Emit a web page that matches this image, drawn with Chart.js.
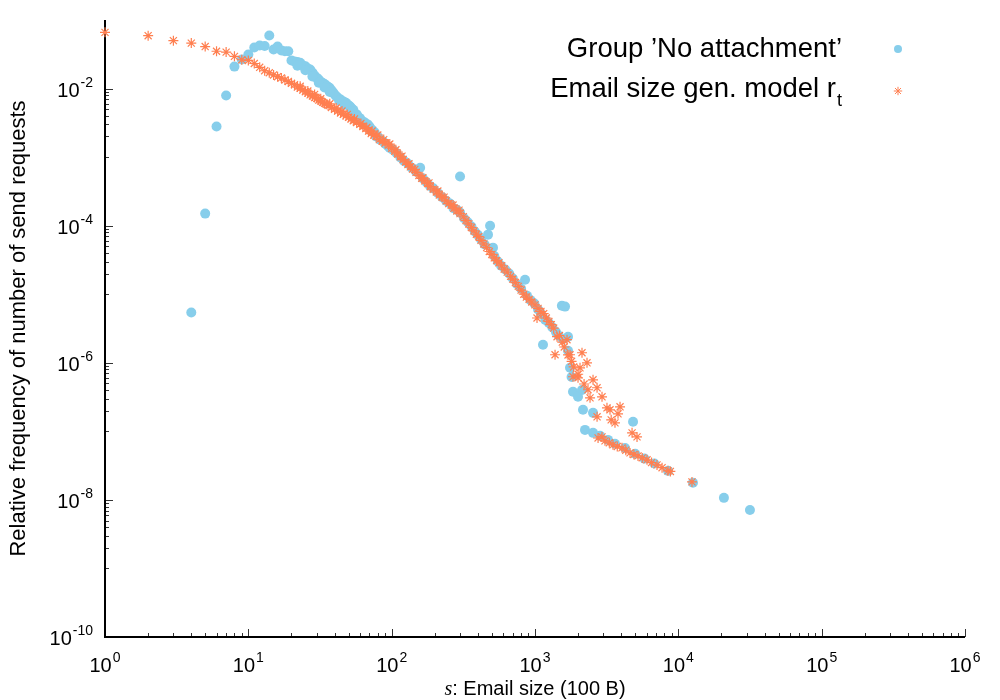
<!DOCTYPE html>
<html><head><meta charset="utf-8">
<script src="https://cdn.jsdelivr.net/npm/chart.js@4/dist/chart.umd.min.js"></script>
<style>html,body{margin:0;padding:0;background:#fff}#wrap{width:1000px;height:700px;position:relative}</style>
</head><body><div id="wrap"><canvas id="c"></canvas></div>
<script>
// ---- tick labels (exponents of 10) ----
const xTickExponents = ['0','1','2','3','4','5','6'];
const yTickExponents = ['-2','-4','-6','-8','-10'];
const seriesNames = ["Group \u2019No attachment\u2019", "Email size gen. model r"];
const modelSubscript = 't';
const xTitleItalic = 's';
const xTitleRest = ': Email size (100 B)';
const yTitle = 'Relative frequency of number of send requests';

// ---- series: Group 'No attachment' ----
const noAttachX = [4,5,6,7,8,9,10,11,12,13,14,15,16,17,18,19,20,21,22,23,24,25,26,27,28,29,30,31,32,33,34,35,36,37,38,39,40,41,42,44,46,48,50,51,52,54,57,60,62,65,68,70,73,76,80,83,87,90,94,97,102,108,115,122,130,138,148,158,165,175,185,195,210,225,240,255,270,285,300,300,320,340,360,380,400,420,445,470,486,509,520,550,580,620,660,700,750,800,852,880,930,990,1050,1100,1137,1180,1250,1320,1400,1460,1540,1620,1567,1700,1700,1755,1800,1841,1996,2128,2162,2540,2233,2540,2843,3230,3614,4250,4830,5000,5800,6800,8470,12650,20800,31600,
  22,25,28,31,34,37,43,47,53,58,64,72,78];
const noAttachY = [5.4e-6,1.5e-4,2.8e-3,7.9e-3,0.0209,0.0265,0.0313,0.0397,0.0425,0.0417,0.0594,0.0371,0.041,0.036,0.035,0.035,0.0256,0.0248,0.0244,0.0237,0.0217,0.0212,0.0196,0.0189,0.0171,0.0155,0.0143,0.0135,0.0126,0.0121,0.0116,0.0111,0.0106,0.0102,0.0094,0.0088,0.0082,0.0077,0.0074,0.0069,0.0065,0.0062,0.0057,0.0055,0.0053,0.0049,0.0042,0.0037,0.0034,0.0032,0.0030,0.0028,0.0025,0.0023,0.0020,0.0018,0.0017,0.00157,0.00145,0.00136,0.00128,0.00115,0.00099,0.00088,0.00080,0.00070,0.00061,0.00070,0.00049,0.00043,0.00038,0.00035,0.00030,0.00026,0.00023,0.00021,0.00018,0.00017,0.00052,0.000155,0.000128,0.000112,9.7e-5,8.2e-5,7.3e-5,6.3e-5,5.3e-5,7.4e-5,1.0e-4,4.78e-5,3.6e-5,3.0e-5,2.6e-5,2.3e-5,2.0e-5,1.7e-5,1.4e-5,1.2e-5,1.63e-5,9.5e-6,8.2e-6,7.3e-6,6.0e-6,5.2e-6,1.83e-6,4.2e-6,3.8e-6,3.3e-6,2.8e-6,2.5e-6,6.8e-6,6.6e-6,2.2e-6,2.4e-6,1.5e-6,8.45e-7,6.2e-7,3.78e-7,3.19e-7,4.0e-7,2.06e-7,1.86e-7,1.05e-7,9.5e-8,8.6e-8,7.5e-8,6.6e-8,5.7e-8,1.38e-7,4.7e-8,4.0e-8,3.4e-8,2.65e-8,1.78e-8,1.07e-8,7.1e-9,
  0.0215,0.0185,0.0150,0.0122,0.0104,0.0089,0.0067,0.0058,0.0047,0.0039,0.0030,0.0024,0.0020];

// ---- series: Email size gen. model r_t ----
const modelX = [1,2,3,4,5,6,7,8,9,10,11,12,13,14,15,16,17,18,19,20,21,22,23,24,25,26,27,28,29,30,31,32,33,34,35,36,38,40,42,44,46,48,50,52,54,57,60,63,66,69,72,75,78,82,86,90,95,100,105,110,115,120,125,130,135,140,148,155,162,170,178,186,195,205,215,225,240,250,260,272,285,300,316,330,345,360,375,390,405,420,440,460,480,500,520,540,560,585,610,640,676,700,730,765,800,835,871,910,950,1000,1033,1050,1100,1150,1200,1250,1300,1350,1380,1425,1480,1550,1600,1672,1700,1755,1800,1841,1860,1996,2000,2061,2128,2200,2306,2343,2421,2540,2710,2710,2935,2935,3178,3336,3400,3614,3795,3920,4756,5150,2754,3078,3300,3500,3750,4045,4300,4603,4900,5233,5600,6046,6500,7100,7700,8470,8800,12450,
  23,26,29,32,37,41,45,49,55,61,67,73,80,88,97,107,118,132,145,165,182,210,232,268,295];
const modelY = [0.066,0.059,0.050,0.046,0.041,0.035,0.034,0.0295,0.0263,0.0257,0.0232,0.0204,0.0182,0.0170,0.0158,0.0149,0.0143,0.0133,0.0127,0.0119,0.0114,0.0105,0.0101,0.0095,0.0090,0.0086,0.0081,0.0078,0.0074,0.0072,0.0068,0.0066,0.0063,0.0061,0.0059,0.0057,0.0053,0.0050,0.0047,0.0044,0.0042,0.0040,0.0038,0.0036,0.0034,0.0032,0.0030,0.0028,0.0026,0.0024,0.0022,0.0021,0.0020,0.0018,0.0017,0.0016,0.0015,0.00135,0.00122,0.00111,0.00101,0.00092,0.00085,0.00078,0.00072,0.00067,0.00060,0.00054,0.00049,0.00045,0.00041,0.00037,0.00034,0.00031,0.00028,0.00026,0.00023,0.00021,0.00020,0.00018,0.000164,0.000150,0.000135,0.000119,0.000106,9.4e-5,8.4e-5,7.5e-5,6.9e-5,6.1e-5,5.4e-5,4.8e-5,4.2e-5,3.8e-5,3.4e-5,3.1e-5,2.87e-5,2.6e-5,2.33e-5,2.1e-5,1.82e-5,1.66e-5,1.48e-5,1.3e-5,1.15e-5,1.0e-5,9.1e-6,8.4e-6,7.7e-6,7.0e-6,4.5e-6,6.2e-6,5.6e-6,5.2e-6,4.5e-6,4.0e-6,3.6e-6,3.2e-6,1.31e-6,2.4e-6,2.5e-6,2.0e-6,1.7e-6,2.17e-6,1.3e-6,1.31e-6,1.05e-6,6.25e-7,8.7e-7,6.04e-7,6.8e-7,8.45e-7,1.4e-6,4.9e-7,1.0e-6,4.04e-7,3.08e-7,5.65e-7,4.32e-7,1.63e-7,3.19e-7,8.3e-8,2.2e-7,2.06e-7,1.47e-7,1.33e-7,1.8e-7,2.28e-7,9.5e-8,8.3e-8,8.0e-8,7.26e-8,6.8e-8,6.35e-8,6.0e-8,5.74e-8,5.3e-8,4.85e-8,4.6e-8,4.38e-8,4.1e-8,3.84e-8,3.5e-8,3.24e-8,2.95e-8,2.65e-8,2.6e-8,1.83e-8,
  0.0108,0.0092,0.0082,0.0071,0.0060,0.0052,0.0047,0.0042,0.0036,0.0031,0.0027,0.0024,0.0021,0.0018,0.00155,0.00128,0.00103,0.00080,0.00066,0.00050,0.00042,0.00032,0.00026,0.00020,0.000168];

const BLUE = '#87ceeb';
const ORANGE = '#ff7f50';
const FONT = "'Liberation Sans', Arial, Helvetica, sans-serif";

function pts(xs, ys){ return xs.map((x,i)=>({x:x, y:ys[i]})); }

function drawPower(ctx, base, exp, x, yBase, align, baseSize, supSize){
  ctx.font = baseSize + 'px ' + FONT;
  const bw = ctx.measureText(base).width;
  ctx.font = supSize + 'px ' + FONT;
  const sw = ctx.measureText(exp).width;
  const total = bw + sw + 1;
  let left;
  if (align === 'right') left = x - total; else left = x - total/2;
  ctx.textAlign = 'left';
  ctx.textBaseline = 'alphabetic';
  ctx.font = baseSize + 'px ' + FONT;
  ctx.fillText(base, left, yBase);
  ctx.font = supSize + 'px ' + FONT;
  ctx.fillText(exp, left + bw + 1, yBase - 10);
}

const axesPlugin = {
  id: 'gnuAxes',
  beforeDatasetsDraw(chart){
    const ctx = chart.ctx, a = chart.chartArea;
    const xs = chart.scales.x, ys = chart.scales.y;
    ctx.save();
    ctx.strokeStyle = '#333';
    ctx.lineWidth = 1;
    ctx.beginPath();
    for (let e = 0; e <= 6; e++){
      const px = Math.round(xs.getPixelForValue(Math.pow(10,e))) + 0.5;
      ctx.moveTo(px, a.bottom); ctx.lineTo(px, a.bottom - 8);
      if (e < 6) for (let k = 2; k <= 9; k++){
        const p = Math.round(xs.getPixelForValue(k*Math.pow(10,e))) + 0.5;
        ctx.moveTo(p, a.bottom); ctx.lineTo(p, a.bottom - 4);
      }
    }
    for (let e = -10; e <= -2; e += 2){
      const py = Math.round(ys.getPixelForValue(Math.pow(10,e))) + 0.5;
      ctx.moveTo(a.left, py); ctx.lineTo(a.left + 8, py);
      if (e + 1 <= -1) for (let k = 1; k <= 9; k++){
        const v = k*Math.pow(10,e+1);
        if (v >= 1e-1) continue;
        const p = Math.round(ys.getPixelForValue(v)) + 0.5;
        ctx.moveTo(a.left, p); ctx.lineTo(a.left + 4, p);
      }
    }
    ctx.stroke();
    ctx.strokeStyle = '#000';
    ctx.lineWidth = 2;
    ctx.beginPath();
    ctx.moveTo(a.left, a.top); ctx.lineTo(a.left, a.bottom); ctx.lineTo(a.right, a.bottom);
    ctx.stroke();
    ctx.restore();
  },
  afterDraw(chart){
    const ctx = chart.ctx, a = chart.chartArea;
    const xs = chart.scales.x, ys = chart.scales.y;
    ctx.save();
    ctx.fillStyle = '#000';
    xTickExponents.forEach((ex, i) => {
      const px = xs.getPixelForValue(Math.pow(10, i));
      drawPower(ctx, '10', ex, px, a.bottom + 35, 'center', 20, 14);
    });
    yTickExponents.forEach((ex) => {
      const py = ys.getPixelForValue(Math.pow(10, parseInt(ex,10)));
      drawPower(ctx, '10', ex, a.left - 12, py + 8, 'right', 20, 14);
    });
    ctx.textBaseline = 'alphabetic';
    const serif = 'italic 20px "Liberation Serif", "DejaVu Serif", serif';
    ctx.font = serif;
    const w1 = ctx.measureText(xTitleItalic).width;
    ctx.font = '20px ' + FONT;
    const w2 = ctx.measureText(xTitleRest).width;
    const cx = (a.left + a.right)/2;
    const lx = cx - (w1 + w2)/2;
    ctx.textAlign = 'left';
    ctx.font = serif;
    ctx.fillText(xTitleItalic, lx, 695);
    ctx.font = '20px ' + FONT;
    ctx.fillText(xTitleRest, lx + w1, 695);
    ctx.save();
    ctx.translate(25, (a.top + a.bottom)/2);
    ctx.rotate(-Math.PI/2);
    ctx.textAlign = 'center';
    ctx.font = '22px ' + FONT;
    ctx.fillText(yTitle, 0, 0);
    ctx.restore();
    const R = 842;
    ctx.font = '27.5px ' + FONT;
    ctx.textAlign = 'right';
    ctx.fillText(seriesNames[0], R, 57);
    ctx.font = '18px ' + FONT;
    const sw = ctx.measureText(modelSubscript).width;
    ctx.textAlign = 'left';
    ctx.fillText(modelSubscript, R - sw, 106);
    ctx.font = '27.5px ' + FONT;
    ctx.textAlign = 'right';
    ctx.fillText(seriesNames[1], R - sw - 1, 97);
    ctx.fillStyle = BLUE;
    ctx.beginPath(); ctx.arc(898, 49, 4, 0, Math.PI*2); ctx.fill();
    ctx.strokeStyle = ORANGE; ctx.lineWidth = 1;
    ctx.beginPath();
    const sx = 898, sy = 91, r = 4.2, d = r*Math.SQRT1_2;
    ctx.moveTo(sx - r, sy); ctx.lineTo(sx + r, sy);
    ctx.moveTo(sx, sy - r); ctx.lineTo(sx, sy + r);
    ctx.moveTo(sx - d, sy - d); ctx.lineTo(sx + d, sy + d);
    ctx.moveTo(sx - d, sy + d); ctx.lineTo(sx + d, sy - d);
    ctx.stroke();
    ctx.restore();
  }
};

new Chart(document.getElementById('c').getContext('2d'), {
  type: 'scatter',
  data: { datasets: [
    { label: seriesNames[1], data: pts(modelX, modelY), pointStyle: 'star', pointRadius: 5,
      pointBorderColor: ORANGE, pointBackgroundColor: ORANGE, pointBorderWidth: 1.2, order: 0, clip: false },
    { label: seriesNames[0], data: pts(noAttachX, noAttachY), pointStyle: 'circle', pointRadius: 5,
      pointBackgroundColor: BLUE, pointBorderColor: BLUE, pointBorderWidth: 0, order: 1, clip: false }
  ]},
  options: {
    responsive: true, maintainAspectRatio: false, animation: false, events: [],
    layout: { padding: { left: 105, right: 35, top: 20, bottom: 63 } },
    plugins: { legend: { display: false }, tooltip: { enabled: false } },
    scales: {
      x: { type: 'logarithmic', min: 1, max: 1e6, display: false },
      y: { type: 'logarithmic', min: 1e-10, max: 1e-1, display: false }
    }
  },
  plugins: [axesPlugin]
});
</script></body></html>
